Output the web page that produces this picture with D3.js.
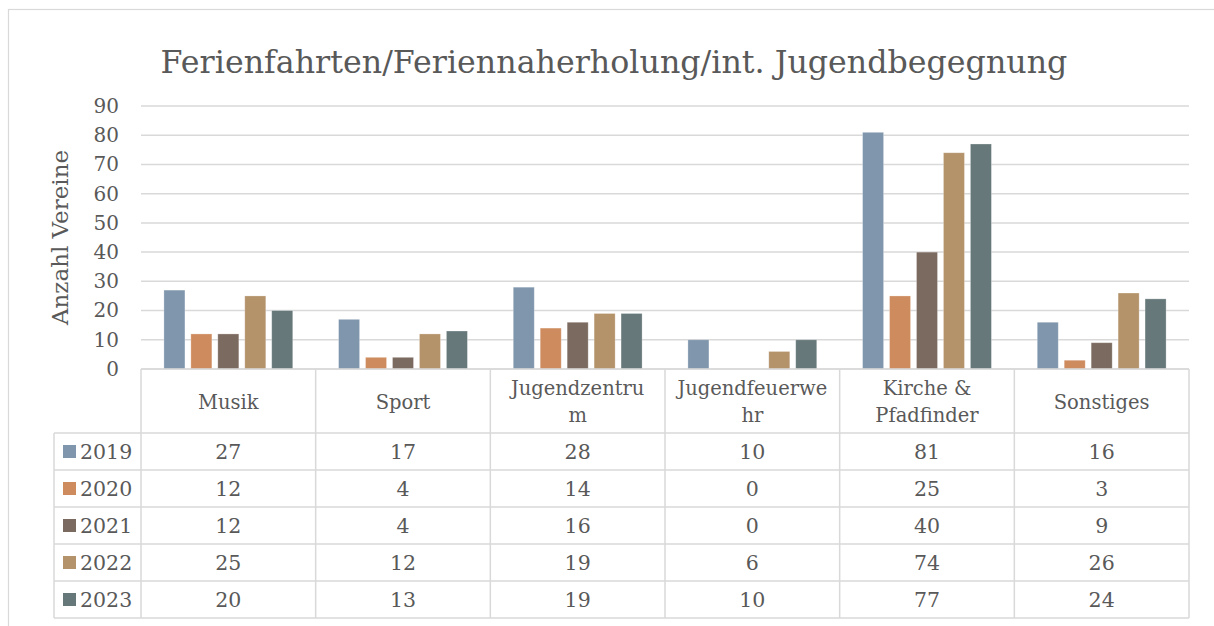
<!DOCTYPE html>
<html>
<head>
<meta charset="utf-8">
<script src="https://cdn.jsdelivr.net/npm/d3@7"></script>
<style>
  html, body { margin: 0; padding: 0; background: #fff; }
  svg text { font-family: "DejaVu Serif", serif; fill: #595959; }
</style>
</head>
<body>
<svg id="chart" width="1214" height="626"></svg>
<script>
// ─── Data ────────────────────────────────────────────
const categories = ['Musik', 'Sport', 'Jugendzentrum', 'Jugendfeuerwehr', 'Kirche & Pfadfinder', 'Sonstiges'];
// header text as wrapped in the table
const categoryLines = [['Musik'], ['Sport'], ['Jugendzentru', 'm'], ['Jugendfeuerwe', 'hr'], ['Kirche &', 'Pfadfinder'], ['Sonstiges']];
const years = ['2019', '2020', '2021', '2022', '2023'];
const values2019 = [27, 17, 28, 10, 81, 16];
const values2020 = [12, 4, 14, 0, 25, 3];
const values2021 = [12, 4, 16, 0, 40, 9];
const values2022 = [25, 12, 19, 6, 74, 26];
const values2023 = [20, 13, 19, 10, 77, 24];
const seriesValues = [values2019, values2020, values2021, values2022, values2023];
const yTicks = [0, 10, 20, 30, 40, 50, 60, 70, 80, 90];
const colors = ['#7F96AD', '#CE8B5E', '#7B6A5F', '#B4926A', '#66787A'];

const titleText = 'Ferienfahrten/Feriennaherholung/int. Jugendbegegnung';
const yTitle = 'Anzahl Vereine';

// ─── Layout ──────────────────────────────────────────
const plot = { left: 141, right: 1189, top: 106, bottom: 369 };
const headerH = 64;
const rowH = 37;
const legendLeft = 54;
const gridColor = '#D9D9D9';

const svg = d3.select('#chart');

// chart frame
svg.append('rect')
  .attr('x', 8.5).attr('y', 9.5)
  .attr('width', 1230).attr('height', 640)
  .attr('fill', '#fff')
  .attr('stroke', gridColor).attr('stroke-width', 1.2);

// title
svg.append('text')
  .attr('x', 614).attr('y', 73)
  .attr('text-anchor', 'middle')
  .style('font-size', '31.7px')
  .text(titleText);

const x = d3.scaleBand()
  .domain(categories)
  .range([plot.left, plot.right]);

const xInner = d3.scaleBand()
  .domain(years)
  .range([0, x.bandwidth()])
  .paddingInner(0.22)
  .paddingOuter(0.85);

const y = d3.scaleLinear()
  .domain([0, 90])
  .range([plot.bottom, plot.top]);

// gridlines
svg.append('g')
  .selectAll('line')
  .data(yTicks)
  .enter().append('line')
  .attr('x1', plot.left).attr('x2', plot.right)
  .attr('y1', d => y(d)).attr('y2', d => y(d))
  .attr('stroke', gridColor).attr('stroke-width', 1.5);

// y axis labels
const yAxis = d3.axisLeft(y).tickValues(yTicks).tickSize(0).tickPadding(0);
const yAxisG = svg.append('g')
  .attr('transform', `translate(${plot.left - 22},0)`)
  .call(yAxis);
yAxisG.select('.domain').remove();
yAxisG.selectAll('text')
  .style('font-family', '"DejaVu Serif", serif')
  .style('font-size', '20px')
  .attr('fill', '#595959');

// y title
svg.append('text')
  .attr('transform', `translate(68,${(plot.top + plot.bottom) / 2}) rotate(-90)`)
  .attr('text-anchor', 'middle')
  .style('font-size', '23px')
  .text(yTitle);

// bars
years.forEach((yr, si) => {
  svg.append('g')
    .selectAll('rect')
    .data(seriesValues[si].map((v, ci) => ({ cat: categories[ci], v })))
    .enter().append('rect')
    .attr('x', d => x(d.cat) + xInner(yr))
    .attr('width', xInner.bandwidth())
    .attr('y', d => y(d.v))
    .attr('height', d => y(0) - y(d.v))
    .attr('fill', colors[si])
    .attr('stroke', d => d.v > 0 ? 'rgba(255,255,255,0.35)' : 'none')
    .attr('stroke-width', 0.8);
});

// ─── Data table ──────────────────────────────────────
const tableTop = plot.bottom;
const tableBottom = tableTop + headerH + rowH * years.length;
const tbl = svg.append('g');

// horizontal lines
tbl.append('line')
  .attr('x1', plot.left).attr('x2', plot.right)
  .attr('y1', tableTop).attr('y2', tableTop);
d3.range(years.length + 1).forEach(i => {
  const yy = tableTop + headerH + i * rowH;
  tbl.append('line')
    .attr('x1', legendLeft).attr('x2', plot.right)
    .attr('y1', yy).attr('y2', yy);
});
// vertical lines
const colEdges = categories.map(c => x(c)).concat([plot.right]);
colEdges.forEach(xx => {
  tbl.append('line')
    .attr('x1', xx).attr('x2', xx)
    .attr('y1', tableTop).attr('y2', tableBottom);
});
tbl.append('line')
  .attr('x1', legendLeft).attr('x2', legendLeft)
  .attr('y1', tableTop + headerH).attr('y2', tableBottom);
tbl.selectAll('line')
  .attr('stroke', gridColor).attr('stroke-width', 1.5);

// header labels
categories.forEach((c, ci) => {
  const lines = categoryLines[ci];
  const cx = x(c) + x.bandwidth() / 2;
  const mid = tableTop + headerH / 2;
  const lh = 27;
  lines.forEach((ln, li) => {
    tbl.append('text')
      .attr('x', cx)
      .attr('y', mid + 7.5 + (li - (lines.length - 1) / 2) * lh)
      .attr('text-anchor', 'middle')
      .style('font-size', '19.5px')
      .text(ln);
  });
});

// rows
years.forEach((yr, si) => {
  const rowMid = tableTop + headerH + si * rowH + rowH / 2;
  tbl.append('rect')
    .attr('x', 63).attr('y', rowMid - 6.5)
    .attr('width', 13).attr('height', 13)
    .attr('fill', colors[si]);
  tbl.append('text')
    .attr('x', 80).attr('y', rowMid + 7.5)
    .style('font-size', '20.5px')
    .text(yr);
  seriesValues[si].forEach((v, ci) => {
    tbl.append('text')
      .attr('x', x(categories[ci]) + x.bandwidth() / 2)
      .attr('y', rowMid + 7.5)
      .attr('text-anchor', 'middle')
      .style('font-size', '20.5px')
      .text(v);
  });
});
</script>
</body>
</html>
